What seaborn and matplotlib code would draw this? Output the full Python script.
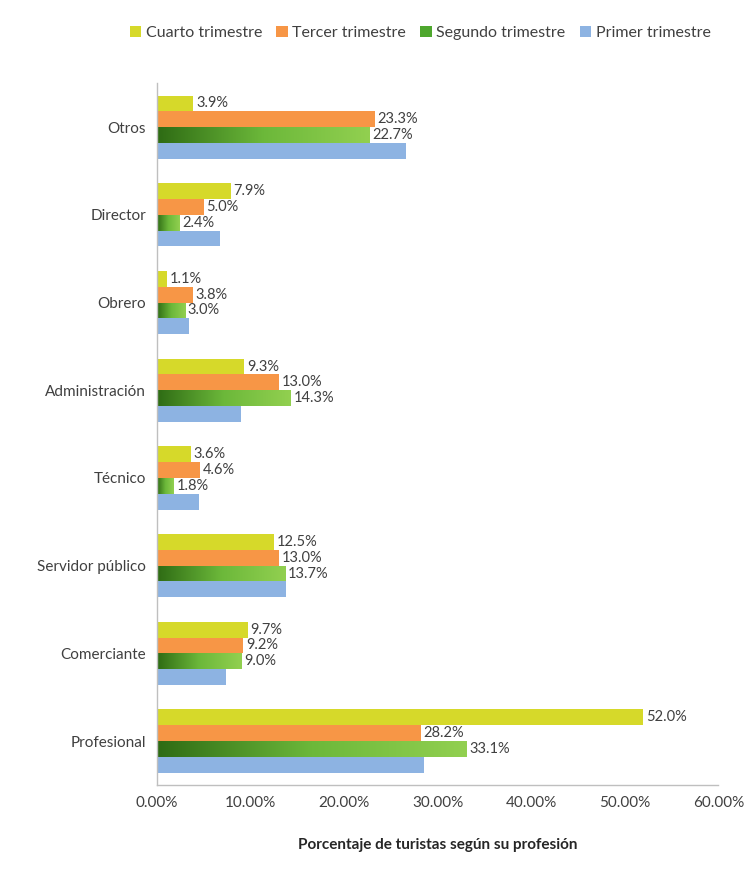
import numpy as np
import pandas as pd
import seaborn as sns
import matplotlib.pyplot as plt
from matplotlib.colors import LinearSegmentedColormap
from matplotlib.ticker import FuncFormatter

sns.set_theme(style="white")
plt.rcParams["font.family"] = ["Lato", "DejaVu Sans"]

# datos (porcentajes)
categorias = ["Otros", "Director", "Obrero", "Administración", "Técnico",
              "Servidor público", "Comerciante", "Profesional"]
trimestres = ["Cuarto trimestre", "Tercer trimestre", "Segundo trimestre", "Primer trimestre"]
cuarto = [3.9, 7.9, 1.1, 9.3, 3.6, 12.5, 9.7, 52.0]
tercer = [23.3, 5.0, 3.8, 13.0, 4.6, 13.0, 9.2, 28.2]
segundo = [22.7, 2.4, 3.0, 14.3, 1.8, 13.7, 9.0, 33.1]
primer = [26.6, 6.7, 3.4, 9.0, 4.5, 13.8, 7.4, 28.5]

colores = ["#d6d92a", "#f79646", "#4ea72e", "#8db3e2"]

df = pd.DataFrame({
    "categoria": categorias * 4,
    "trimestre": np.repeat(trimestres, len(categorias)),
    "valor": cuarto + tercer + segundo + primer,
})

fig = plt.figure(figsize=(7.49, 8.77), dpi=100)
ax = fig.add_axes([0.2096, 0.105, 0.7494, 0.80])

sns.barplot(data=df, x="valor", y="categoria", hue="trimestre", order=categorias,
            hue_order=trimestres, palette=colores, orient="h", width=0.72,
            saturation=1, linewidth=0, ax=ax, legend=True)

# degradado verde para el segundo trimestre
cmap = LinearSegmentedColormap.from_list("verde", ["#2e6b14", "#6cb83a", "#92d050"])
grad = np.linspace(0, 1, 256).reshape(1, -1)
for bar in ax.containers[2]:
    x0, y0 = bar.get_x(), bar.get_y()
    w, h = bar.get_width(), bar.get_height()
    im = ax.imshow(grad, cmap=cmap, aspect="auto", extent=[x0, x0 + w, y0 + h, y0],
                   zorder=bar.get_zorder() + 0.1)
    im.set_clip_path(bar)
ax.set_aspect("auto")

# etiquetas de valor (sin el primer trimestre)
for cont, vals in zip(ax.containers[:3], [cuarto, tercer, segundo]):
    ax.bar_label(cont, labels=[f"{v:.1f}%" for v in vals], padding=2,
                 fontsize=10.5, color="#404040")

ax.set_xlim(0, 60)
ax.set_ylim(7.5, -0.5)
ax.set_xticks(np.arange(0, 61, 10))
ax.xaxis.set_major_formatter(FuncFormatter(lambda x, p: f"{x:.2f}%"))
ax.tick_params(axis="both", labelsize=11, colors="#404040", length=0, pad=8)
ax.set_ylabel("")
ax.set_xlabel("Porcentaje de turistas según su profesión", fontsize=11,
              fontweight="bold", color="#262626", labelpad=20)

for s in ["top", "right"]:
    ax.spines[s].set_visible(False)
for s in ["left", "bottom"]:
    ax.spines[s].set_color("#bfbfbf")
    ax.spines[s].set_linewidth(1)

handles, labels = ax.get_legend_handles_labels()
ax.legend_.remove()
fig.legend(handles, labels, loc="center", bbox_to_anchor=(0.561, 0.962), ncol=4,
           frameon=False, fontsize=11.5, handlelength=0.7, handleheight=0.7,
           handletextpad=0.3, columnspacing=0.9, labelcolor="#404040")

fig.savefig("out.png", dpi=100)
